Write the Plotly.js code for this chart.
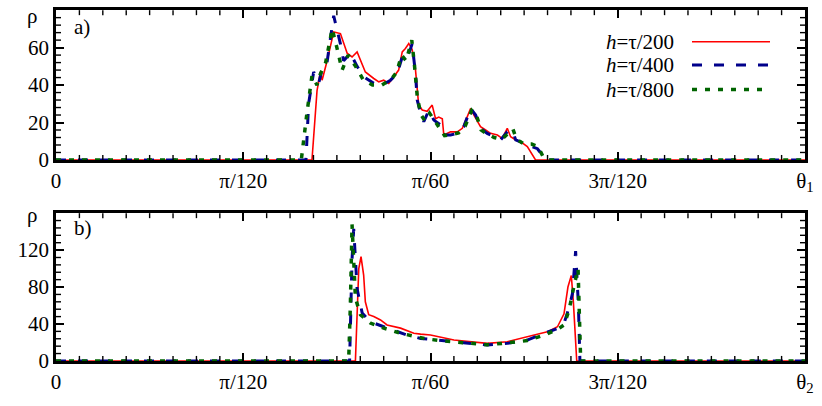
<!DOCTYPE html>
<html>
<head>
<meta charset="utf-8">
<script src="https://cdn.plot.ly/plotly-3.0.1.min.js"></script>
<style>
  html, body { margin: 0; padding: 0; background: #fff; }
  #plot { width: 822px; height: 406px; }
  #plot svg text, #plot svg tspan { font-family: "Liberation Serif", "Times New Roman", serif !important; }
</style>
</head>
<body>
<div id="plot"></div>
<script>
// theta values are given in units of pi/120
var th1_h200 = [0, 1.367, 1.394, 1.412, 1.421, 1.448, 1.483, 1.519, 1.555, 1.581, 1.608, 1.652, 1.697, 1.724, 1.750, 1.777, 1.804, 1.830, 1.849, 1.866, 1.884, 1.902, 1.920, 1.929, 1.937, 1.956, 1.982, 2.009, 2.027, 2.044, 2.063, 2.071, 2.107, 2.143, 2.170, 2.196, 2.214, 2.232, 2.267, 2.294, 2.321, 2.357, 2.383, 2.410, 2.428, 2.455, 2.481, 2.517, 2.561, 4];
var rho1_h200 = [0, 0, 37, 47, 42.6, 53, 68.4, 67.5, 57, 55, 57.7, 47, 43.5, 41.7, 42.6, 40.9, 44.4, 48, 57.7, 59.5, 62.2, 59, 48, 39, 29.3, 26.7, 26, 29.3, 22, 22.9, 22, 13.3, 15, 15, 16.9, 23, 27.5, 24, 17.8, 16, 14.2, 13.3, 11.5, 16.9, 12.4, 10.7, 9.8, 7.1, 0, 0];

var th1_h400 = [0, 1.335, 1.349, 1.376, 1.403, 1.421, 1.448, 1.483, 1.519, 1.536, 1.572, 1.608, 1.643, 1.697, 1.742, 1.786, 1.822, 1.849, 1.875, 1.902, 1.920, 1.929, 1.947, 1.964, 1.991, 2.018, 2.053, 2.071, 2.107, 2.143, 2.178, 2.214, 2.241, 2.267, 2.303, 2.338, 2.374, 2.410, 2.437, 2.455, 2.499, 2.552, 2.571, 2.606, 2.624, 4];
var rho1_h400 = [0, 0, 30, 47, 41, 48.3, 52.5, 77, 62, 53, 57, 50, 44.4, 40.9, 40, 42.6, 46, 55, 54, 62, 46, 32, 24.9, 20.4, 26.5, 21.3, 18.7, 13.3, 13.3, 14.2, 17.8, 27.5, 24, 17, 14.2, 12.4, 10.7, 15, 16, 10.7, 9, 7, 6, 1.5, 0, 0];

var th1_h800 = [0, 1.310, 1.340, 1.367, 1.394, 1.412, 1.440, 1.475, 1.500, 1.528, 1.560, 1.600, 1.640, 1.690, 1.740, 1.790, 1.820, 1.845, 1.870, 1.900, 1.915, 1.930, 1.950, 1.970, 1.995, 2.020, 2.050, 2.075, 2.110, 2.150, 2.185, 2.220, 2.245, 2.270, 2.300, 2.340, 2.380, 2.415, 2.440, 2.460, 2.500, 2.540, 2.575, 2.600, 2.630, 4];
var rho1_h800 = [0, 0, 25, 45, 40, 46, 52, 70, 60, 48, 56, 50, 43, 40, 40, 43, 47, 56, 53, 64, 50, 33, 24, 21, 25, 21, 17, 13, 13.5, 14.5, 18, 26.5, 24, 16, 14, 12, 11, 14, 16.5, 11, 8.5, 8.5, 7, 2, 0, 0];

var th2_h200 = [0, 1.599, 1.617, 1.629, 1.643, 1.652, 1.670, 1.697, 1.733, 1.768, 1.840, 1.911, 1.947, 2.000, 2.125, 2.232, 2.303, 2.410, 2.517, 2.624, 2.678, 2.713, 2.734, 2.752, 2.763, 2.770, 2.781, 4];
var rho2_h200 = [0, 0, 100, 113, 93, 64, 50, 48, 44.4, 39, 35.5, 30, 29, 28, 22.6, 20.8, 19, 20.8, 26, 31.5, 37, 51, 80, 92.5, 64, 35, 0, 0];

var th2_h400 = [0, 1.568, 1.581, 1.590, 1.608, 1.635, 1.661, 1.697, 1.750, 1.804, 1.875, 1.947, 2.036, 2.125, 2.196, 2.303, 2.410, 2.517, 2.606, 2.678, 2.713, 2.740, 2.758, 2.775, 2.790, 2.798, 4];
var rho2_h400 = [0, 0, 110, 143, 78, 52, 46, 41, 37, 33, 28, 24.4, 22.6, 20.8, 19, 17.2, 19, 22.6, 29.8, 35, 40.5, 58, 72.8, 119, 60, 0, 0];

var th2_h800 = [0, 1.563, 1.572, 1.581, 1.599, 1.626, 1.679, 1.750, 1.840, 1.911, 1.975, 2.050, 2.125, 2.196, 2.303, 2.410, 2.517, 2.606, 2.678, 2.713, 2.740, 2.765, 2.788, 2.795, 2.802, 4];
var rho2_h800 = [0, 0, 60, 148, 68, 50, 41, 35.5, 30, 26.5, 24, 22, 20.5, 19, 17.5, 19.5, 22, 28, 34, 39, 55, 80, 100, 50, 0, 0];

var legend_names = ["<i>h</i>=τ/200", "<i>h</i>=τ/400", "<i>h</i>=τ/800"];
var xtick_units = [0, 1, 2, 3, 4];
var xtick_text1 = ["0", "π/120", "π/60", "3π/120", "θ<sub>1</sub>"];
var xtick_text2 = ["0", "π/120", "π/60", "3π/120", "θ<sub>2</sub>"];
var ytick1 = [0, 20, 40, 60];
var ytick2 = [0, 40, 80, 120];
var ymax1 = 80, ymax2 = 160;

var U = Math.PI / 120;
function rad(a) { return a.map(function (v) { return v * U; }); }
function serif() { return { family: "Liberation Serif", size: 21, color: "#000" }; }

var styles = [
  { color: "#ff0000", width: 1.6, dash: "solid" },
  { color: "#00008b", width: 3, dash: "10px,12px" },
  { color: "#006400", width: 3.5, dash: "5px,8px" }
];

var series1 = [[th1_h200, rho1_h200], [th1_h400, rho1_h400], [th1_h800, rho1_h800]];
var series2 = [[th2_h200, rho2_h200], [th2_h400, rho2_h400], [th2_h800, rho2_h800]];

var data = [];
series1.forEach(function (s, i) {
  data.push({ x: rad(s[0]), y: s[1], mode: "lines", type: "scatter", xaxis: "x", yaxis: "y",
    line: styles[i], showlegend: false, name: legend_names[i] });
});
series2.forEach(function (s, i) {
  data.push({ x: rad(s[0]), y: s[1], mode: "lines", type: "scatter", xaxis: "x2", yaxis: "y2",
    line: styles[i], showlegend: false, name: legend_names[i] });
});

function xaxis(texts, anchor) {
  return {
    domain: [0, 1], anchor: anchor, range: [0, 4 * U],
    tickmode: "array", tickvals: rad(xtick_units), ticktext: texts,
    ticks: "inside", ticklen: 8, tickwidth: 1.6, tickcolor: "#000",
    showline: true, linewidth: 2.5, linecolor: "#000", mirror: "allticks",
    showgrid: false, zeroline: false, tickfont: serif()
  };
}
function yaxis(vals, ymax, domain, anchor) {
  return {
    domain: domain, anchor: anchor, range: [0, ymax],
    tickmode: "array", tickvals: vals.concat([ymax]), ticktext: vals.map(String).concat([""]),
    ticks: "inside", ticklen: 8, tickwidth: 1.6, tickcolor: "#000",
    showline: true, linewidth: 2.5, linecolor: "#000", mirror: "allticks",
    showgrid: false, zeroline: false, tickfont: serif()
  };
}

var annotations = [
  { text: "a)", xref: "x", yref: "y", x: 0.085 * U, y: 71, xanchor: "left", yanchor: "middle", showarrow: false, font: serif() },
  { text: "b)", xref: "x2", yref: "y2", x: 0.085 * U, y: 144, xanchor: "left", yanchor: "middle", showarrow: false, font: serif() },
  { text: "ρ", xref: "paper", yref: "y", x: -17 / 749, y: ymax1 - 3, xanchor: "right", yanchor: "middle", showarrow: false, font: serif() },
  { text: "ρ", xref: "paper", yref: "y2", x: -17 / 749, y: ymax2 - 2, xanchor: "right", yanchor: "middle", showarrow: false, font: serif() }
];
var shapes = [];
var legY = [41.7, 65, 89.5];
var legEnd = [770, 770, 763];
legend_names.forEach(function (n, i) {
  annotations.push({ text: n, xref: "paper", yref: "paper", x: (676 - 56) / 749, y: 1 - legY[i] / 406,
    xanchor: "right", yanchor: "middle", showarrow: false, font: serif() });
  shapes.push({ type: "line", xref: "paper", yref: "paper",
    x0: (692 - 56) / 749, x1: (legEnd[i] - 56) / 749, y0: 1 - legY[i] / 406, y1: 1 - legY[i] / 406,
    line: styles[i] });
});

// minor ticks on all four sides of each frame (paper coordinates)
var tickLine = { color: "#000", width: 1.4 };
function minorTicks(yb, yt, ymax, ystep) {
  var h = (yt - yb) * 406;
  var ty = 5 / 406, tx = 5 / 749;
  for (var k = 1; k < 32; k++) {
    if (k % 8 === 0) continue;
    var px = k / 32;
    shapes.push({ type: "line", xref: "paper", yref: "paper", x0: px, x1: px, y0: yb, y1: yb + ty, line: tickLine });
    shapes.push({ type: "line", xref: "paper", yref: "paper", x0: px, x1: px, y0: yt, y1: yt - ty, line: tickLine });
  }
  var n = Math.round(ymax / ystep);
  for (var j = 1; j < n; j++) {
    if (j % 5 === 0) continue;
    var py = yb + (yt - yb) * j / n;
    shapes.push({ type: "line", xref: "paper", yref: "paper", x0: 0, x1: tx, y0: py, y1: py, line: tickLine });
    shapes.push({ type: "line", xref: "paper", yref: "paper", x0: 1, x1: 1 - tx, y0: py, y1: py, line: tickLine });
  }
}
minorTicks(0.606, 0.975, ymax1, 4);
minorTicks(0.111, 0.475, ymax2, 8);

var layout = {
  width: 822, height: 406,
  margin: { l: 56, r: 17, t: 0, b: 0 },
  paper_bgcolor: "#fff", plot_bgcolor: "#fff",
  font: serif(),
  showlegend: false,
  xaxis: xaxis(xtick_text1, "y"),
  yaxis: yaxis(ytick1, ymax1, [0.606, 0.975], "x"),
  xaxis2: xaxis(xtick_text2, "y2"),
  yaxis2: yaxis(ytick2, ymax2, [0.111, 0.475], "x2"),
  annotations: annotations,
  shapes: shapes
};

Plotly.newPlot("plot", data, layout, { displayModeBar: false });
</script>
</body>
</html>
